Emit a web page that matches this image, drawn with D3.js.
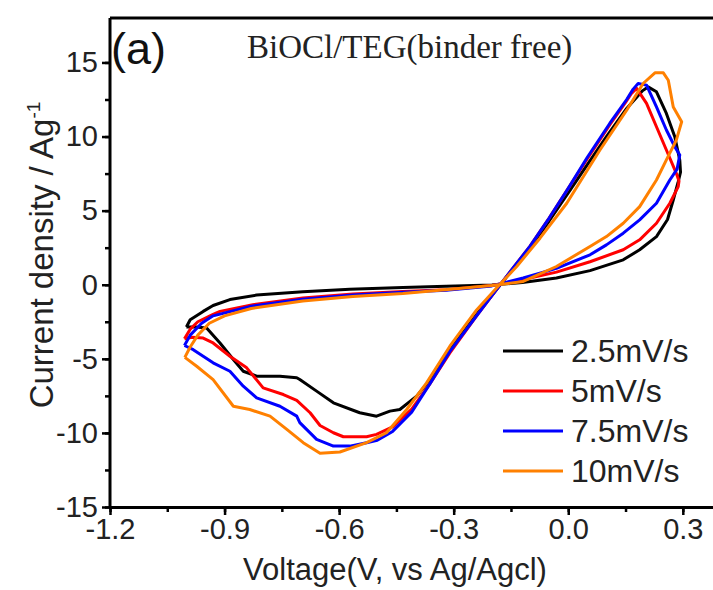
<!DOCTYPE html>
<html lang="en">
<head>
<meta charset="UTF-8">
<title>CV BiOCl/TEG</title>
<style>
  body { margin: 0; background: #fff; }
  .tick text { font-family: "Liberation Sans", Arial, sans-serif; }
  .curve { fill: none; stroke-width: 3px; stroke-linejoin: round; }
</style>
</head>
<body>
<div id="chart"></div>
<script src="https://cdn.jsdelivr.net/npm/d3@7"></script>
<script>
var width = 713, height = 590;

// scan rates (legend) and colours
var rates = ["2.5mV/s", "5mV/s", "7.5mV/s", "10mV/s"];
var colors = ["#000000", "#ff0000", "#0000ff", "#ff8000"];

// voltage (V) / current density (A/g), in scan order
var cv25 = [[-1.0,-2.85],[-0.99,-2.36],[-0.956,-1.8],[-0.93,-1.4],[-0.886,-1.0],[-0.816,-0.7],[-0.695,-0.47],
  [-0.572,-0.31],[-0.433,-0.18],[-0.32,-0.11],[-0.2,-0.02],[-0.12,0.15],[-0.031,0.45],[0.057,0.95],[0.144,1.68],
  [0.187,2.36],[0.231,3.25],[0.26,4.4],[0.275,5.72],[0.288,6.96],[0.294,7.6],[0.292,8.42],[0.279,9.99],
  [0.257,11.56],[0.231,13.02],[0.209,13.35],[0.195,13.1],[0.153,11.9],[0.1,10.0],[0.05,8.1],[0.0,6.2],
  [-0.05,4.3],[-0.1,2.5],[-0.15,0.9],[-0.19,-0.4],[-0.24,-2.0],[-0.31,-4.4],[-0.354,-6.17],[-0.397,-7.52],
  [-0.441,-8.42],[-0.467,-8.53],[-0.502,-8.87],[-0.546,-8.64],[-0.615,-7.97],[-0.659,-7.18],[-0.703,-6.4],
  [-0.711,-6.28],[-0.755,-6.17],[-0.816,-6.17],[-0.851,-5.84],[-0.877,-5.05],[-0.912,-3.93],[-0.947,-2.92],
  [-0.975,-2.85],[-1.0,-2.85]];

var cv5 = [[-1.005,-3.65],[-0.99,-3.0],[-0.97,-2.5],[-0.93,-2.0],[-0.912,-1.8],[-0.826,-1.35],[-0.695,-0.9],
  [-0.564,-0.63],[-0.433,-0.45],[-0.319,-0.34],[-0.2,-0.05],[-0.118,0.35],[-0.031,0.85],[0.057,1.55],
  [0.144,2.36],[0.187,3.03],[0.231,4.15],[0.266,5.5],[0.288,6.62],[0.29,7.0],[0.283,7.52],[0.257,9.09],
  [0.231,10.66],[0.205,12.24],[0.179,13.25],[0.165,12.9],[0.15,12.3],[0.109,10.8],[0.05,8.5],[0.0,6.5],
  [-0.05,4.5],[-0.1,2.6],[-0.15,0.95],[-0.19,-0.4],[-0.24,-2.1],[-0.31,-4.6],[-0.36,-6.6],[-0.41,-8.4],
  [-0.46,-9.6],[-0.502,-10.1],[-0.528,-10.26],[-0.589,-10.26],[-0.615,-9.99],[-0.65,-9.5],[-0.676,-8.64],
  [-0.711,-7.8],[-0.746,-7.41],[-0.799,-6.96],[-0.842,-5.61],[-0.886,-4.83],[-0.93,-3.93],[-0.956,-3.6],
  [-0.985,-3.55],[-1.005,-3.65]];

var cv75 = [[-1.005,-4.1],[-0.99,-3.4],[-0.96,-2.6],[-0.93,-2.1],[-0.83,-1.45],[-0.695,-0.98],[-0.564,-0.7],
  [-0.433,-0.5],[-0.32,-0.38],[-0.2,-0.08],[-0.118,0.45],[-0.031,1.1],[0.057,2.02],[0.1,2.69],[0.144,3.48],
  [0.187,4.38],[0.231,5.5],[0.266,7.07],[0.285,7.8],[0.292,8.75],[0.279,9.31],[0.257,10.44],[0.231,12.0],
  [0.205,13.47],[0.183,13.58],[0.17,13.2],[0.153,12.5],[0.109,10.9],[0.05,8.6],[0.0,6.5],[-0.05,4.5],
  [-0.1,2.6],[-0.15,0.95],[-0.19,-0.4],[-0.24,-2.1],[-0.31,-4.5],[-0.36,-6.6],[-0.41,-8.6],[-0.46,-9.9],
  [-0.5,-10.5],[-0.528,-10.66],[-0.572,-10.89],[-0.615,-10.89],[-0.659,-10.44],[-0.703,-9.31],[-0.711,-8.87],
  [-0.755,-8.2],[-0.816,-7.63],[-0.851,-6.85],[-0.886,-5.84],[-0.93,-5.27],[-0.982,-4.38],[-1.005,-4.1]];

var cv10 = [[-1.004,-4.9],[-0.99,-4.2],[-0.97,-3.4],[-0.94,-2.6],[-0.9,-2.1],[-0.83,-1.6],[-0.695,-1.1],
  [-0.564,-0.8],[-0.433,-0.6],[-0.33,-0.35],[-0.2,-0.05],[-0.118,0.22],[-0.031,1.23],[0.057,2.58],[0.1,3.25],
  [0.144,4.15],[0.187,5.27],[0.231,7.07],[0.257,8.42],[0.283,9.76],[0.297,11.0],[0.275,12.0],[0.262,13.8],
  [0.249,14.3],[0.227,14.3],[0.196,13.58],[0.153,11.78],[0.083,9.09],[-0.004,5.5],[-0.074,3.14],[-0.135,1.23],
  [-0.18,0.0],[-0.24,-1.7],[-0.31,-4.15],[-0.371,-6.62],[-0.423,-8.42],[-0.476,-9.99],[-0.528,-10.66],
  [-0.598,-11.29],[-0.65,-11.38],[-0.694,-10.66],[-0.737,-9.76],[-0.781,-8.87],[-0.834,-8.42],[-0.877,-8.2],
  [-0.93,-6.4],[-0.973,-5.5],[-1.004,-4.9]];

var series = [cv25, cv5, cv75, cv10];

var xTicks = [-1.2, -0.9, -0.6, -0.3, 0.0, 0.3];
var yTicks = [-15, -10, -5, 0, 5, 10, 15];

var margin = {left: 110, top: 18, right: -8, bottom: 83};

var svg = d3.select("#chart").append("svg")
    .attr("width", width)
    .attr("height", height);

var x = d3.scaleLinear().domain([-1.2, 0.4]).range([margin.left, width - margin.right]);
var y = d3.scaleLinear().domain([-15, 18]).range([height - margin.bottom, margin.top]);

// curves
var line = d3.line()
    .x(function(d) { return x(d[0]); })
    .y(function(d) { return y(d[1]); });

svg.append("g").selectAll("path")
    .data(series)
    .enter().append("path")
    .attr("class", "curve")
    .attr("stroke", function(d, i) { return colors[i]; })
    .attr("d", line);

// frame (top line, right side falls outside the picture)
svg.append("path")
    .attr("d", "M" + x(-1.2) + "," + y(18) + "H" + x(0.4))
    .attr("stroke", "#000").attr("stroke-width", 3).attr("fill", "none");

// minor ticks
var xMinor = d3.range(-1.2, 0.35, 0.15);
var yMinor = d3.range(-15, 16, 2.5);

svg.append("g")
    .attr("transform", "translate(0," + y(-15) + ")")
    .call(d3.axisBottom(x).tickValues(xMinor).tickSize(5).tickFormat(""))
    .call(function(g) { g.select(".domain").remove(); })
    .selectAll("line").attr("stroke-width", 2.5);

svg.append("g")
    .attr("transform", "translate(" + x(-1.2) + ",0)")
    .call(d3.axisLeft(y).tickValues(yMinor).tickSize(5).tickFormat(""))
    .call(function(g) { g.select(".domain").remove(); })
    .selectAll("line").attr("stroke-width", 2.5);

// major axes
var xAxis = svg.append("g")
    .attr("transform", "translate(0," + y(-15) + ")")
    .call(d3.axisBottom(x).tickValues(xTicks).tickSize(8).tickSizeOuter(0).tickPadding(3)
        .tickFormat(d3.format(".1f")));
xAxis.select(".domain").attr("stroke-width", 3);
xAxis.selectAll(".tick line").attr("stroke-width", 2.5);
xAxis.selectAll(".tick text").attr("font-size", 29).attr("fill", "#222")
    .text(function(d) { return d3.format(".1f")(d).replace("−", "-"); });

var yAxis = svg.append("g")
    .attr("transform", "translate(" + x(-1.2) + ",0)")
    .call(d3.axisLeft(y).tickValues(yTicks).tickSize(8).tickSizeOuter(0).tickPadding(4));
yAxis.select(".domain").attr("stroke-width", 3)
    .attr("d", "M0," + y(-15) + "V" + y(18));
yAxis.selectAll(".tick line").attr("stroke-width", 2.5);
yAxis.selectAll(".tick text").attr("font-size", 29).attr("fill", "#222")
    .text(function(d) { return String(d); });

// axis titles
svg.append("text")
    .attr("x", 395).attr("y", 580)
    .attr("text-anchor", "middle")
    .attr("font-family", "Liberation Sans, Arial, sans-serif")
    .attr("font-size", 31).attr("fill", "#222")
    .text("Voltage(V, vs Ag/Agcl)");

var yt = svg.append("text")
    .attr("transform", "translate(53,255) rotate(-90)")
    .attr("text-anchor", "middle")
    .attr("font-family", "Liberation Sans, Arial, sans-serif")
    .attr("font-size", 33).attr("fill", "#222");
yt.append("tspan").text("Current density / Ag");
yt.append("tspan").attr("dy", -13).attr("font-size", 19).text("-1");

// panel label and title
svg.append("text")
    .attr("x", 111).attr("y", 64)
    .attr("font-family", "Liberation Sans, Arial, sans-serif")
    .attr("font-size", 45).attr("fill", "#111")
    .text("(a)");

svg.append("text")
    .attr("x", 247).attr("y", 58)
    .attr("font-family", "Liberation Serif, Times New Roman, serif")
    .attr("font-size", 33).attr("fill", "#222")
    .text("BiOCl/TEG(binder free)");

// legend
var legend = svg.append("g").selectAll("g")
    .data(rates)
    .enter().append("g")
    .attr("transform", function(d, i) { return "translate(503," + (351 + i * 40) + ")"; });

legend.append("line")
    .attr("x1", 0).attr("x2", 60)
    .attr("stroke", function(d, i) { return colors[i]; })
    .attr("stroke-width", 3);

legend.append("text")
    .attr("x", 68).attr("dy", "0.35em")
    .attr("font-family", "Liberation Sans, Arial, sans-serif")
    .attr("font-size", 32).attr("fill", "#222")
    .text(function(d) { return d; });
</script>
</body>
</html>
